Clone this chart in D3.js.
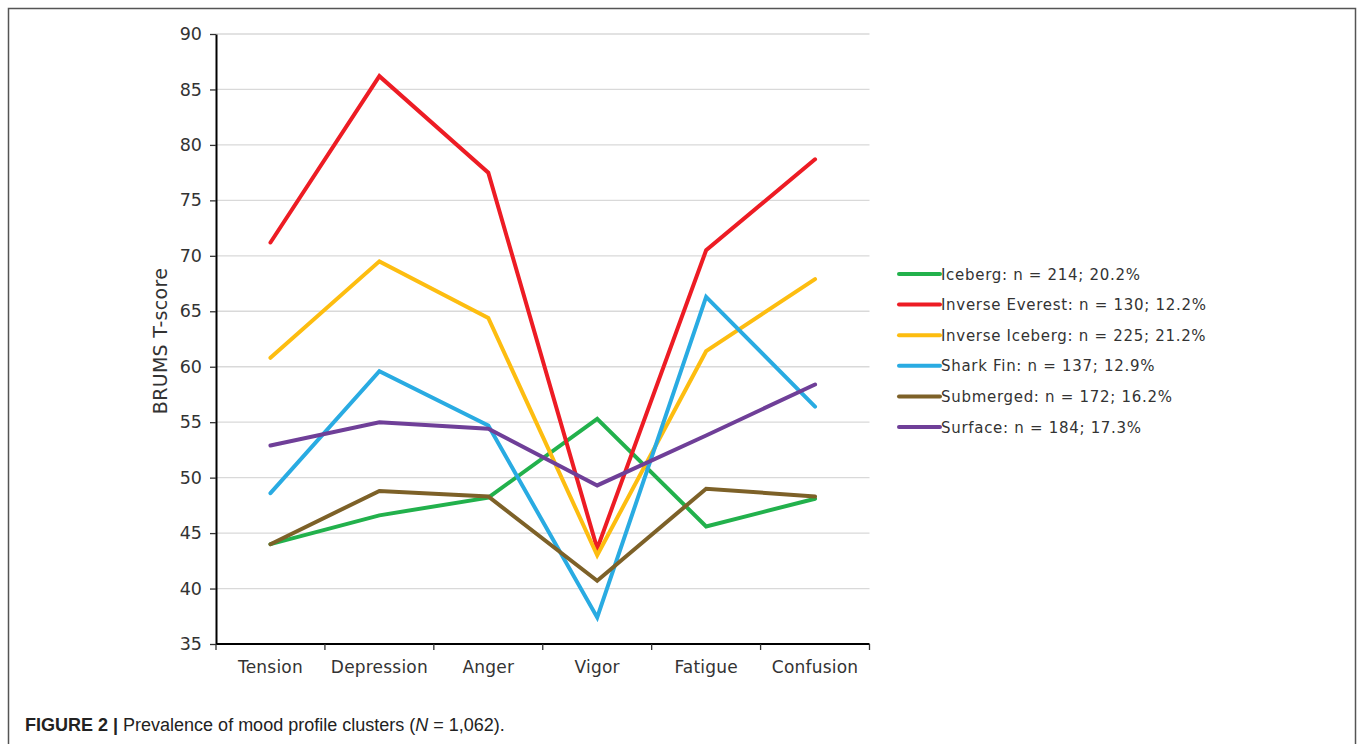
<!DOCTYPE html>
<html>
<head>
<meta charset="utf-8">
<script src="https://cdn.jsdelivr.net/npm/d3@7"></script>
<style>
    body { margin: 0; background: #fff; }
    svg text { font-family: "DejaVu Sans", Verdana, sans-serif; fill: #333; }
    .caption text { font-family: "Liberation Sans", Arial, sans-serif; fill: #222; }
</style>
</head>
<body>
<svg id="chart" width="1357" height="744"></svg>
<script>
var categories = ["Tension", "Depression", "Anger", "Vigor", "Fatigue", "Confusion"];
var seriesNames = ["Iceberg: n = 214; 20.2%", "Inverse Everest: n = 130; 12.2%", "Inverse Iceberg: n = 225; 21.2%",
    "Shark Fin: n = 137; 12.9%", "Submerged: n = 172; 16.2%", "Surface: n = 184; 17.3%"];
var seriesColors = ["#22b14c", "#ed1c24", "#fdbd10", "#29abe2", "#7d6128", "#6f3f98"];
var iceberg        = [44.0, 46.6, 48.2, 55.3, 45.6, 48.1];
var inverseEverest = [71.2, 86.2, 77.5, 43.6, 70.5, 78.7];
var inverseIceberg = [60.8, 69.5, 64.4, 43.0, 61.4, 67.9];
var sharkFin       = [48.6, 59.6, 54.7, 37.4, 66.3, 56.4];
var submerged      = [44.0, 48.8, 48.3, 40.7, 49.0, 48.3];
var surface        = [52.9, 55.0, 54.4, 49.3, 53.8, 58.4];
var yTicks = [35, 40, 45, 50, 55, 60, 65, 70, 75, 80, 85, 90];

var allSeries = [iceberg, inverseEverest, inverseIceberg, sharkFin, submerged, surface];

var svg = d3.select("#chart");

// Outer frame
svg.append("rect")
    .attr("x", 8.5).attr("y", 8.5)
    .attr("width", 1347).attr("height", 760)
    .attr("fill", "none")
    .attr("stroke", "#555")
    .attr("stroke-width", 1.5);

var plotLeft = 216, plotRight = 869.5, plotTop = 34, plotBottom = 644;

var x = d3.scaleBand().domain(categories).range([plotLeft, plotRight]);
var y = d3.scaleLinear().domain([35, 90]).range([plotBottom, plotTop]);

// Gridlines
svg.append("g").selectAll("line")
    .data(yTicks.slice(1))
    .enter().append("line")
    .attr("x1", plotLeft).attr("x2", plotRight)
    .attr("y1", function(d) { return y(d); })
    .attr("y2", function(d) { return y(d); })
    .attr("stroke", "#d9d9d9")
    .attr("stroke-width", 1.3);

// Y axis
var yAxis = svg.append("g")
    .attr("transform", "translate(" + plotLeft + ",0)")
    .call(d3.axisLeft(y).tickValues(yTicks).tickSize(6).tickPadding(8).tickSizeOuter(0));
yAxis.select(".domain").attr("stroke", "#000").attr("stroke-width", 2);
yAxis.selectAll(".tick line").attr("stroke", "#333").attr("stroke-width", 1.3);
yAxis.selectAll(".tick text").attr("font-size", 17.5).style("fill", "#333")
    .style("font-family", "'DejaVu Sans', Verdana, sans-serif");

// X axis, ticks on band boundaries
var xAxis = svg.append("g")
    .attr("transform", "translate(0," + plotBottom + ")");
xAxis.append("line")
    .attr("x1", plotLeft).attr("x2", plotRight)
    .attr("stroke", "#000").attr("stroke-width", 2);
xAxis.selectAll("line.tk")
    .data(d3.range(categories.length + 1))
    .enter().append("line")
    .attr("class", "tk")
    .attr("x1", function(i) { return plotLeft + i * x.bandwidth(); })
    .attr("x2", function(i) { return plotLeft + i * x.bandwidth(); })
    .attr("y1", 0).attr("y2", 6)
    .attr("stroke", "#333").attr("stroke-width", 1.3);
xAxis.selectAll("text")
    .data(categories)
    .enter().append("text")
    .attr("x", function(d) { return x(d) + x.bandwidth() / 2; })
    .attr("y", 29)
    .attr("text-anchor", "middle")
    .attr("font-size", 17)
    .attr("letter-spacing", 0.2)
    .text(function(d) { return d; });

// Y axis title
svg.append("text")
    .attr("transform", "translate(167," + ((plotTop + plotBottom) / 2 + 2) + ") rotate(-90)")
    .attr("text-anchor", "middle")
    .attr("font-size", 19)
    .attr("letter-spacing", 0.3)
    .text("BRUMS T-score");

// Lines
var line = d3.line()
    .x(function(d, i) { return x(categories[i]) + x.bandwidth() / 2; })
    .y(function(d) { return y(d); });

svg.append("g").selectAll("path")
    .data(allSeries)
    .enter().append("path")
    .attr("d", line)
    .attr("fill", "none")
    .attr("stroke", function(d, i) { return seriesColors[i]; })
    .attr("stroke-width", 4)
    .attr("stroke-linejoin", "miter")
    .attr("stroke-linecap", "round");

// Legend
var legend = svg.append("g").attr("transform", "translate(899,274)");
var items = legend.selectAll("g")
    .data(seriesNames)
    .enter().append("g")
    .attr("transform", function(d, i) { return "translate(0," + (i * 30.6) + ")"; });
items.append("line")
    .attr("x1", 0).attr("x2", 41)
    .attr("stroke", function(d, i) { return seriesColors[i]; })
    .attr("stroke-width", 4)
    .attr("stroke-linecap", "round");
items.append("text")
    .attr("x", 42).attr("y", 5.5)
    .attr("font-size", 15)
    .attr("letter-spacing", 0.7)
    .text(function(d) { return d; });

// Caption
var cap = svg.append("g").attr("class", "caption").append("text")
    .attr("x", 25).attr("y", 731)
    .attr("font-size", 18);
cap.append("tspan").attr("font-weight", "bold").text("FIGURE 2 | ");
cap.append("tspan").text("Prevalence of mood profile clusters (");
cap.append("tspan").attr("font-style", "italic").text("N");
cap.append("tspan").text(" = 1,062).");
</script>
</body>
</html>
